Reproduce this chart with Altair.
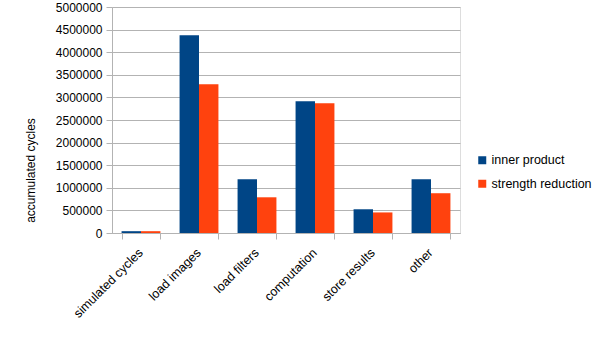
import altair as alt
import pandas as pd

categories = ["simulated cycles", "load images", "load filters", "computation", "store results", "other"]
series = ["inner product", "strength reduction"]
inner_product = [40000, 4375000, 1190000, 2915000, 525000, 1190000]
strength_reduction = [40000, 3290000, 790000, 2870000, 455000, 880000]
colors = ["#004586", "#ff420e"]

rows = []
for c, a, b in zip(categories, inner_product, strength_reduction):
    rows.append({"category": c, "series": series[0], "value": a})
    rows.append({"category": c, "series": series[1], "value": b})
df = pd.DataFrame(rows)

FONT = "Liberation Sans"

chart = alt.Chart(df).mark_bar().encode(
    x=alt.X("category:N", sort=categories, title=None,
            scale=alt.Scale(paddingInner=0.33, paddingOuter=0.165),
            axis=alt.Axis(labelAngle=-45, tickBand="extent", tickSize=6,
                          labelPadding=7, labelOffset=-5,
                          domainColor="#b3b3b3", tickColor="#b3b3b3",
                          labelFontSize=12.5, labelFont=FONT, labelColor="#000000")),
    xOffset=alt.XOffset("series:N", sort=series, scale=alt.Scale(paddingInner=0, paddingOuter=0)),
    y=alt.Y("value:Q", title="accumulated cycles",
            scale=alt.Scale(domain=[0, 5000000], nice=False),
            axis=alt.Axis(values=list(range(0, 5000001, 500000)), format="d",
                          tickSize=6, labelPadding=4, domainColor="#b3b3b3", tickColor="#b3b3b3",
                          gridColor="#b3b3b3", labelFontSize=12, labelFont=FONT, labelColor="#000000",
                          titleFont=FONT, titleFontSize=12, titleFontWeight="normal", titleColor="#000000",
                          titleAngle=270, titleAlign="center", titleBaseline="alphabetic",
                          titleX=-78, titleY=163)),
    color=alt.Color("series:N", sort=series,
                    scale=alt.Scale(domain=series, range=colors),
                    legend=alt.Legend(title=None, orient="none", legendX=364, legendY=147,
                                      symbolType="square", symbolSize=64, symbolStrokeWidth=0,
                                      labelFont=FONT, labelFontSize=12.5, labelColor="#000000",
                                      rowPadding=10.5, padding=0, labelOffset=3)),
).properties(
    width=348, height=226,
    padding={"left": 112, "top": 7, "right": 145, "bottom": 107},
    autosize=alt.AutoSizeParams(type="none"),
).configure_view(stroke="#b3b3b3").configure(background="white")

chart.save("out.html", embed_options={"renderer": "svg", "actions": False})
